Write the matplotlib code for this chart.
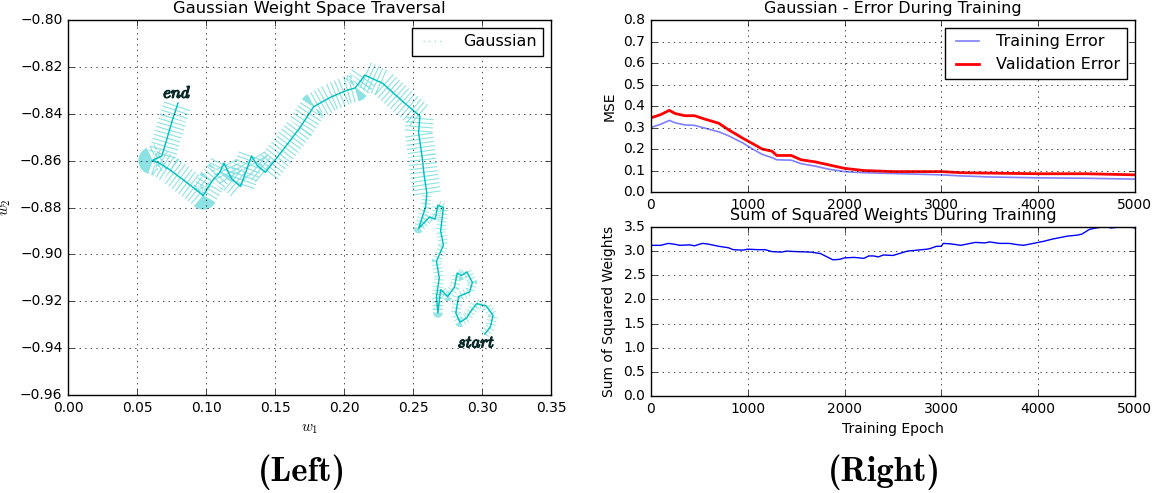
import numpy as np
import matplotlib
matplotlib.use('Agg')
import matplotlib.pyplot as plt
import matplotlib.patheffects as pe

# weight space path, from start to end
w1_path = [0.302, 0.306, 0.308, 0.303, 0.296, 0.291, 0.289, 0.284, 0.281, 0.283,
           0.291, 0.293, 0.289, 0.285, 0.282, 0.280, 0.275, 0.270, 0.268, 0.267,
           0.269, 0.267, 0.272, 0.270, 0.272, 0.268, 0.266, 0.262, 0.254, 0.259,
           0.260, 0.258, 0.2565, 0.254, 0.255, 0.243, 0.228, 0.215, 0.212, 0.208,
           0.202, 0.190, 0.178, 0.168, 0.155, 0.143, 0.137, 0.133, 0.125, 0.119,
           0.117, 0.113, 0.110, 0.104, 0.098, 0.093, 0.083, 0.074, 0.066, 0.061,
           0.068, 0.072, 0.076, 0.0797]
w2_path = [-0.934, -0.931, -0.926, -0.922, -0.921, -0.925, -0.927, -0.929, -0.925, -0.918,
           -0.916, -0.912, -0.9075, -0.909, -0.908, -0.914, -0.918, -0.915, -0.925, -0.918,
           -0.910, -0.903, -0.896, -0.890, -0.880, -0.879, -0.885, -0.884, -0.889, -0.880,
           -0.874, -0.866, -0.858, -0.848, -0.841, -0.835, -0.827, -0.8235, -0.826, -0.829,
           -0.830, -0.833, -0.837, -0.846, -0.856, -0.865, -0.862, -0.858, -0.871, -0.868,
           -0.866, -0.861, -0.865, -0.869, -0.875, -0.8725, -0.868, -0.864, -0.861, -0.860,
           -0.858, -0.850, -0.842, -0.8354]
split = 30  # where the wide sweeps begin

# error curves
err_epoch = [0, 100, 190, 250, 350, 450, 550, 700, 800, 950, 1050, 1150, 1250, 1300,
             1450, 1550, 1700, 1850, 2000, 2100, 2200, 2500, 3000, 3200, 3500, 4000,
             4500, 5000]
train_err = [0.300, 0.315, 0.333, 0.322, 0.312, 0.310, 0.298, 0.280, 0.262, 0.228,
             0.200, 0.175, 0.160, 0.150, 0.148, 0.132, 0.120, 0.105, 0.095, 0.092,
             0.090, 0.086, 0.080, 0.075, 0.070, 0.066, 0.064, 0.060]
valid_err = [0.345, 0.360, 0.380, 0.365, 0.355, 0.355, 0.340, 0.320, 0.290, 0.250,
             0.225, 0.200, 0.190, 0.170, 0.170, 0.150, 0.140, 0.125, 0.110, 0.105,
             0.100, 0.095, 0.095, 0.090, 0.088, 0.085, 0.085, 0.080]

# sum of squared weights
ssw_epoch = [0, 100, 180, 250, 300, 400, 450, 530, 580, 700, 800, 850, 950, 1000,
             1100, 1180, 1250, 1350, 1400, 1500, 1650, 1750, 1820, 1880, 1950, 2000,
             2100, 2200, 2250, 2300, 2350, 2400, 2500, 2550, 2650, 2750, 2850, 2880,
             2950, 3000, 3020, 3100, 3200, 3300, 3350, 3450, 3500, 3600, 3700, 3800,
             3850, 3950, 4050, 4150, 4250, 4300, 4400, 4450, 4530, 4600, 4700, 4750,
             4850, 4950, 5000]
ssw = [3.12, 3.12, 3.16, 3.14, 3.12, 3.13, 3.11, 3.16, 3.15, 3.10, 3.07, 3.03, 3.02,
       3.04, 3.03, 3.03, 2.99, 2.98, 3.00, 2.99, 2.98, 2.95, 2.88, 2.82, 2.83, 2.86,
       2.87, 2.85, 2.90, 2.90, 2.88, 2.92, 2.91, 2.94, 3.00, 3.02, 3.04, 3.05, 3.10,
       3.10, 3.16, 3.15, 3.12, 3.16, 3.18, 3.17, 3.19, 3.16, 3.16, 3.13, 3.12, 3.16,
       3.20, 3.25, 3.29, 3.31, 3.33, 3.35, 3.45, 3.48, 3.51, 3.48, 3.50, 3.50, 3.48]

plt.style.use('classic')
plt.rcParams['figure.facecolor'] = 'white'
plt.rcParams['savefig.facecolor'] = 'white'
plt.rcParams['font.size'] = 10
plt.rcParams['mathtext.fontset'] = 'cm'
plt.rcParams['lines.scale_dashes'] = False

fig = plt.figure(figsize=(11.55, 4.93), dpi=100)

# left panel
ax = fig.add_axes([0.0589, 0.1988, 0.4182, 0.7606])
# striped sweeps along the path
ax.plot(w1_path[split:], w2_path[split:], color='c', lw=20, alpha=0.45,
        dashes=(0.8, 2.2), dash_capstyle='butt', solid_joinstyle='miter')
ax.plot(w1_path[:split + 1], w2_path[:split + 1], color='c', lw=7, alpha=0.4,
        dashes=(0.7, 2.0), dash_capstyle='butt')
ax.plot(w1_path, w2_path, color='c', lw=1.0)
ax.plot(w1_path, w2_path, color='c', lw=1.0, ls=':', alpha=0.4, label='Gaussian')
bold = [pe.withStroke(linewidth=0.9, foreground='#0a2a2a')]
ax.text(w1_path[-1] - 0.0005, w2_path[-1] + 0.0005, r'$end$', color='#0a2a2a',
        fontsize=12, ha='center', va='bottom', path_effects=bold)
ax.text(0.296, -0.9375, r'$start$', color='#0a2a2a', fontsize=12,
        ha='center', va='center', path_effects=bold)
ax.set_xlim(0, 0.35)
ax.set_ylim(-0.96, -0.80)
ax.grid(True)
ax.set_title('Gaussian Weight Space Traversal', fontsize=11.8)
ax.set_xlabel(r'$w_1$', fontsize=11)
ax.set_ylabel(r'$w_2$', fontsize=11)
ax.tick_params(labelsize=10)
ax.legend(loc='upper right', fontsize=11.5)

# right top
ax1 = fig.add_axes([0.5636, 0.6105, 0.419, 0.3489])
ax1.plot(err_epoch, train_err, color='b', alpha=0.5, lw=1.2, label='Training Error')
ax1.plot(err_epoch, valid_err, color='r', lw=2, label='Validation Error')
ax1.set_xlim(0, 5000)
ax1.set_ylim(0, 0.8)
ax1.grid(True)
ax1.set_title('Gaussian - Error During Training', fontsize=11.5)
ax1.set_ylabel('MSE', fontsize=10)
ax1.tick_params(labelsize=10)
ax1.legend(loc='upper right', fontsize=11.5)

# right bottom
ax2 = fig.add_axes([0.5636, 0.1968, 0.419, 0.3428])
ax2.plot(ssw_epoch, ssw, color='b', lw=1)
ax2.set_xlim(0, 5000)
ax2.set_ylim(0, 3.5)
ax2.grid(True)
ax2.set_title('Sum of Squared Weights During Training', fontsize=11.5)
ax2.set_xlabel('Training Epoch', fontsize=10)
ax2.set_ylabel('Sum of Squared Weights', fontsize=10)
ax2.tick_params(labelsize=10)

fig.text(0.261, 0.043, '(Left)', fontfamily='cmb10', fontsize=25, ha='center', va='center')
fig.text(0.766, 0.043, '(Right)', fontfamily='cmb10', fontsize=25, ha='center', va='center')

fig.savefig('out.png', dpi=100)
